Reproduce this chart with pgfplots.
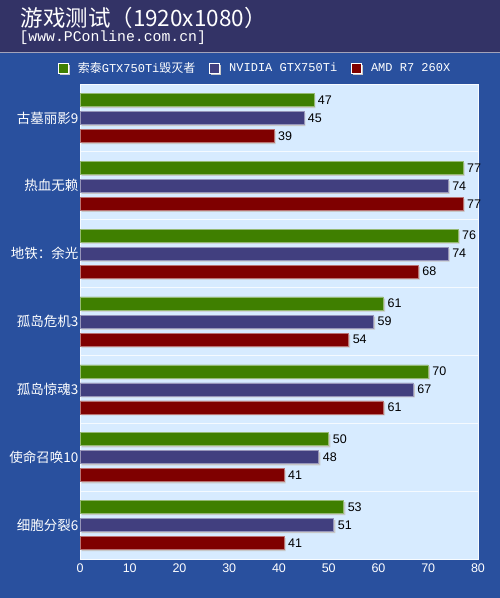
\documentclass[border=0pt]{standalone}
\usepackage{fontspec}
\setmainfont{Liberation Sans}
\newfontfamily\cjk{Noto Sans CJK SC}
\newfontfamily\mono{Liberation Mono}
\usepackage{pgfplots}
\pgfplotsset{compat=1.18}

\definecolor{hdr}{HTML}{333366}
\definecolor{bgblue}{HTML}{29509E}
\definecolor{plotbg}{HTML}{D7EBFF}
\definecolor{sgreen}{HTML}{3F7F00}
\definecolor{spurple}{HTML}{413F7F}
\definecolor{sred}{HTML}{7F0000}

\pgfplotsset{
  shadowbar/.style={draw=#1!55!white, line width=0.6bp, fill=#1,
    preaction={fill=black!22, draw=none,
      transform canvas={shift={(1.6bp,-1.6bp)}}}},
}

\begin{document}
\begin{tikzpicture}
\path[use as bounding box] (0,0) rectangle (500bp,598bp);
\fill[bgblue] (0,0) rectangle (500bp,598bp);
\fill[hdr] (0,546bp) rectangle (500bp,598bp);
\draw[white!55!hdr, line width=1bp] (0,545.5bp) -- (500bp,545.5bp);
\node[anchor=west, text=white, font=\cjk\fontsize{22.5bp}{23bp}\selectfont] at (17bp,580bp) {游戏测试（1920x1080）};
\node[anchor=west, text=white, font=\mono\fontsize{14.8bp}{15bp}\selectfont] at (16bp,560bp) {[www.PConline.com.cn]};

\begin{axis}[
  at={(80bp,39bp)}, anchor=south west,
  scale only axis, width=398bp, height=475bp,
  xbar, bar width=13bp,
  xmin=0, xmax=80, ymin=-0.5, ymax=6.5,
  xtick={0,10,...,80},
  ytick={0,...,6},
  yticklabels={细胞分裂6,使命召唤10,孤岛惊魂3,孤岛危机3,地铁：余光,热血无赖,古墓丽影9},
  minor ytick={0.5,1.5,...,5.5},
  yminorgrids,
  minor grid style={draw=white!75!plotbg, line width=1bp},
  minor tick length=0pt,
  major tick length=0pt,
  axis background/.style={fill=plotbg},
  axis line style={draw=white!80!plotbg, line width=0.8bp},
  yticklabel style={text=white, font=\cjk\fontsize{13.5bp}{14bp}\selectfont, xshift=2bp},
  xticklabel style={text=white, font=\fontsize{12.5bp}{13bp}\selectfont, yshift=-1bp},
  /pgf/number format/assume math mode=true,
  nodes near coords,
  nodes near coords style={text=black, font=\fontsize{12.5bp}{13bp}\selectfont, anchor=west, xshift=0.5bp},
  legend style={at={(0.44,1)}, anchor=center, yshift=16bp, draw=none, fill=none,
    text=white, font=\mono\fontsize{12bp}{12bp}\selectfont,
    legend columns=3,
    /tikz/every odd column/.append style={column sep=7bp},
    /tikz/every even column/.append style={column sep=12bp}},
  legend cell align=left,
]
\addplot[shadowbar=sgreen, bar shift=18bp,
  legend image code/.code={\draw[fill=sgreen, draw=white, line width=0.8bp] (0bp,-5bp) rectangle (10bp,5bp);}]
  coordinates {(53,0) (50,1) (70,2) (61,3) (76,4) (77,5) (47,6)};
\addlegendentry{{\cjk 索泰}GTX750Ti{\cjk 毁灭者}}
\addplot[shadowbar=spurple, bar shift=0bp,
  legend image code/.code={\draw[fill=spurple, draw=white, line width=0.8bp] (0bp,-5bp) rectangle (10bp,5bp);}]
  coordinates {(51,0) (48,1) (67,2) (59,3) (74,4) (74,5) (45,6)};
\addlegendentry{NVIDIA GTX750Ti}
\addplot[shadowbar=sred, bar shift=-18bp,
  legend image code/.code={\draw[fill=sred, draw=white, line width=0.8bp] (0bp,-5bp) rectangle (10bp,5bp);}]
  coordinates {(41,0) (41,1) (61,2) (54,3) (68,4) (77,5) (39,6)};
\addlegendentry{AMD R7 260X}
\end{axis}
\end{tikzpicture}
\end{document}
